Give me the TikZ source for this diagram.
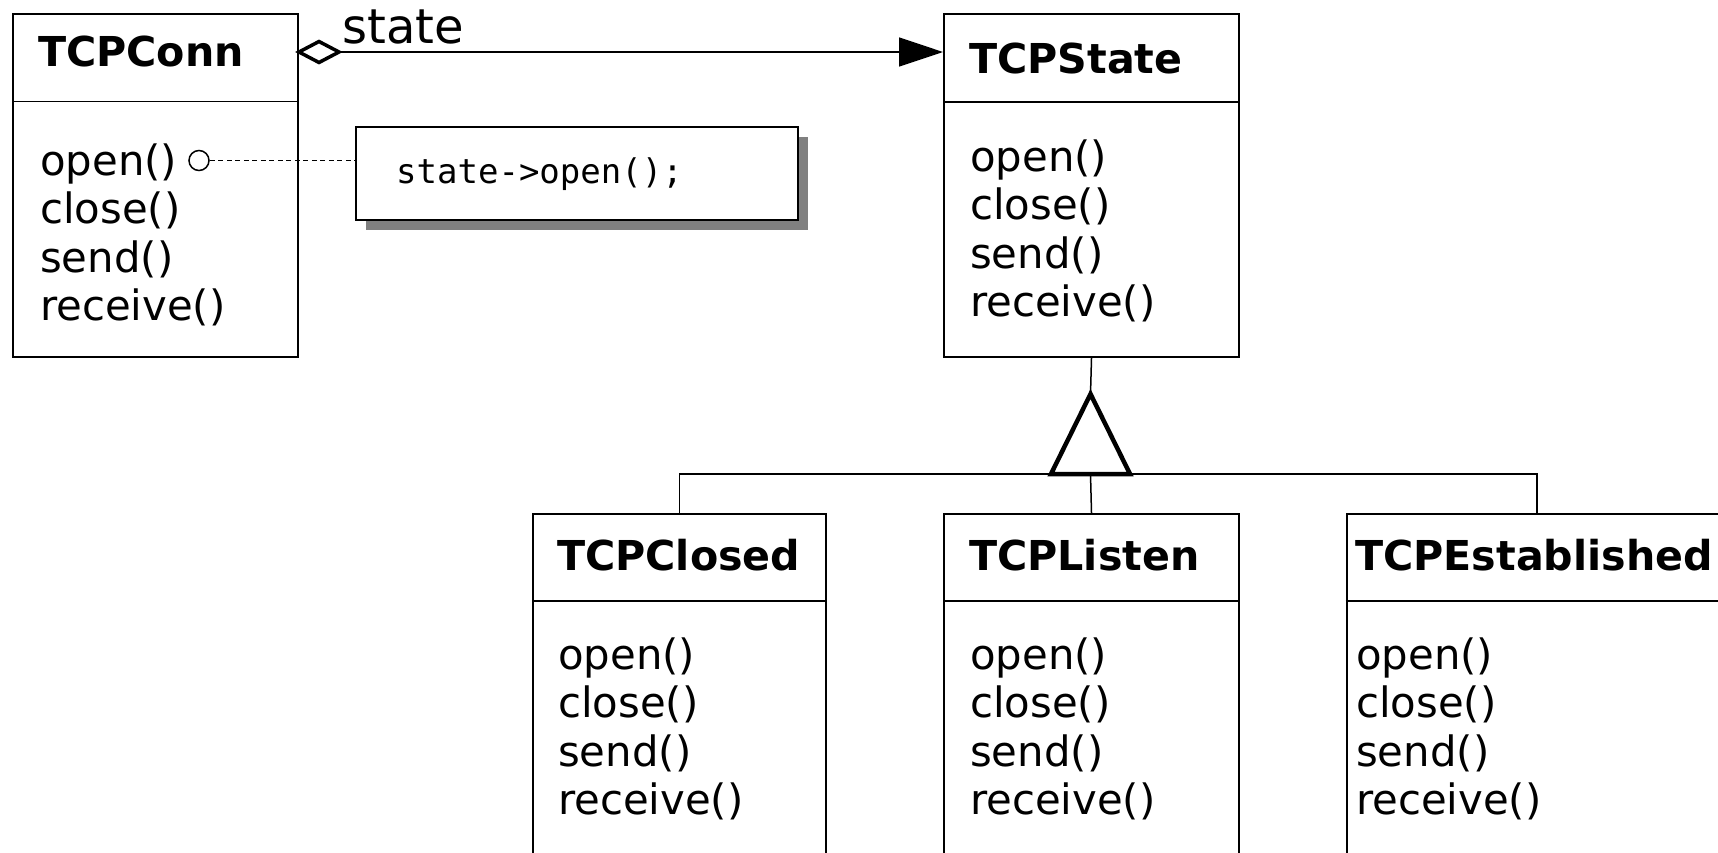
\documentclass[tikz,border=0pt]{standalone}
\usepackage{fontspec}
\setmainfont{DejaVu Sans}
\newfontfamily\codefont{DejaVu Sans Mono}
\usetikzlibrary{arrows.meta,shadows}

% list of the four operations of a class, one named node per line
\newcommand\oplist[3]{%
  \foreach \m [count=\i] in {open(),close(),send(),receive()}
    \node[oper] (#1-m\i) at (#2,{#3+(\i-1)*48.6}) {\m};%
}

\begin{document}
\begin{tikzpicture}[x=1pt,y=-1pt,
  classbox/.style={draw,line width=2pt,fill=white,inner sep=0pt,anchor=north west},
  divider/.style={line width=1.3pt},
  classname/.style={anchor=base west,inner sep=0pt,font=\fontsize{41.2}{48}\selectfont\bfseries},
  oper/.style={anchor=base west,inner sep=0pt,font=\fontsize{41.8}{48}\selectfont},
  conn/.style={line width=1.5pt},
  notebox/.style={draw,line width=2pt,fill=white,inner sep=0pt,anchor=north west,
    drop shadow={shadow xshift=10pt,shadow yshift=-10pt,fill=black!50,opacity=1}},
  gentri/.style={line width=4.5pt,fill=white,line join=miter},
  aggdiamond/.style={line width=3.5pt,fill=white,line join=miter}]

\clip (0,0) rectangle (1718,852);
\fill[white] (0,0) rectangle (1718,852);

% context class
\node[classbox,minimum width=285pt,minimum height=343pt] (tcpconn) at (12,13) {};
\draw[divider] (12,101.5) -- (297,101.5);
\node[classname] (tcpconn-name) at (38,66) {TCPConn};
\oplist{tcpconn}{40}{175}

% abstract state
\node[classbox,minimum width=295pt,minimum height=343pt] (tcpstate) at (943,13) {};
\draw[divider] (943,102) -- (1238,102);
\node[classname] (tcpstate-name) at (969,73) {TCPState};
\oplist{tcpstate}{970}{171}

% concrete states
\node[classbox,minimum width=293pt,minimum height=400pt] (tcpclosed) at (532,513) {};
\draw[divider] (532,601) -- (825,601);
\node[classname] (tcpclosed-name) at (557,570) {TCPClosed};
\oplist{tcpclosed}{558}{669}

\node[classbox,minimum width=295pt,minimum height=400pt] (tcplisten) at (943,513) {};
\draw[divider] (943,601) -- (1238,601);
\node[classname] (tcplisten-name) at (969,570) {TCPListen};
\oplist{tcplisten}{970}{669}

\node[classbox,minimum width=381pt,minimum height=400pt] (tcpestab) at (1345.5,513) {};
\draw[divider] (1345.5,601) -- (1740,601);
\node[classname] (tcpestab-name) at (1355,570) {TCPEstablished};
\oplist{tcpestab}{1356}{669}

% aggregation: TCPConn holds its state
\coordinate (agg-start) at ([yshift=-39pt]tcpconn.north east);
\coordinate (agg-end) at ([yshift=-39pt]tcpstate.north west);
\draw[conn,-{Triangle[length=44pt,width=29pt]}] ([xshift=40pt]agg-start) -- (agg-end);
\draw[aggdiamond] (agg-start) -- ++(20,-10.5) -- ++(20,10.5) -- ++(-20,10.5) -- cycle;
\node[anchor=base west,inner sep=0pt,font=\fontsize{48}{54}\selectfont] (role) at (342,43) {state};

% implementation note attached to open()
\node[notebox,minimum width=442pt,minimum height=93pt] (note) at (355,126) {};
\node[anchor=base west,inner sep=0pt,font=\fontsize{34}{40}\selectfont\codefont] (note-text) at (396,183) {state->open();};
\node[circle,draw,line width=1.5pt,minimum size=20pt,inner sep=0pt] (pin) at (199,160.5) {};
\draw[line width=1.2pt,dash pattern=on 5pt off 3.5pt] (pin.east) -- (pin.east -| note.west);

% generalization
\coordinate (apex) at (1090.5,394);
\coordinate (hub) at (1090.5,474);
\draw[conn] (tcpstate.south) -- (apex);
\draw[conn] (tcpclosed.north) -- (tcpclosed.north |- hub) -- (tcpestab.north |- hub) -- (tcpestab.north);
\draw[conn] (hub) -- (tcplisten.north);
\draw[gentri] (apex) -- ([xshift=-39.5pt]hub) -- ([xshift=39.5pt]hub) -- cycle;
\end{tikzpicture}
\end{document}
